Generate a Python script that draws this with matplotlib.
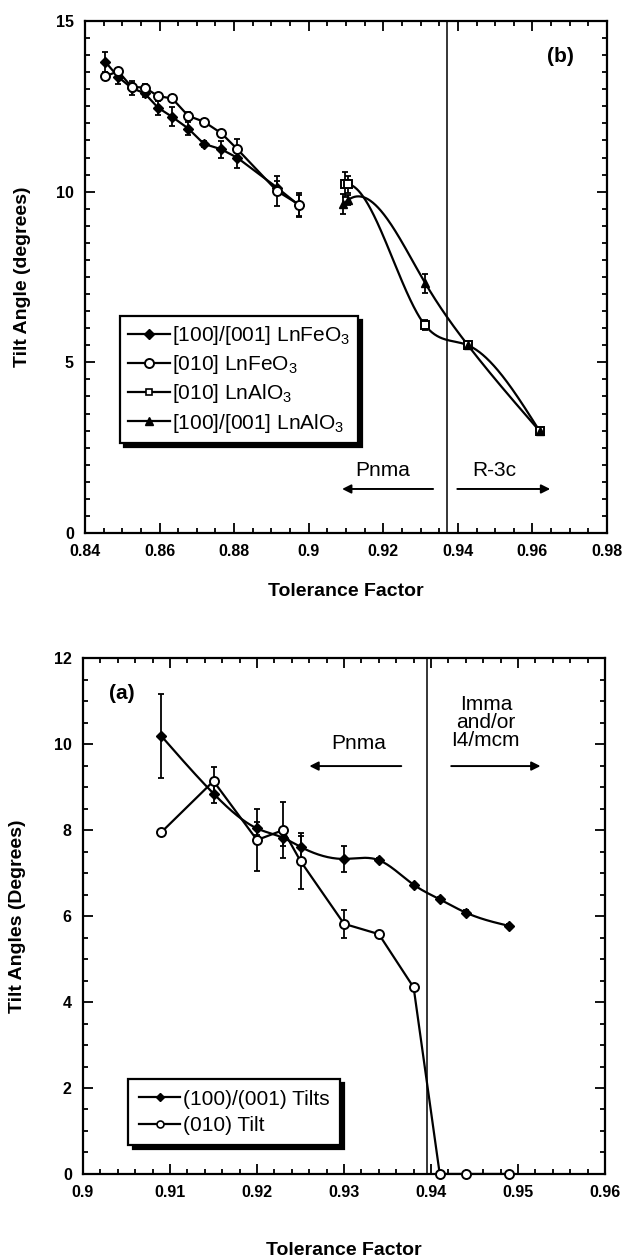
import numpy as np
import matplotlib
matplotlib.use("Agg")
import matplotlib.pyplot as plt
from matplotlib.ticker import MultipleLocator, FormatStrFormatter

plt.rcParams["font.family"] = ["Liberation Sans", "DejaVu Sans"]
plt.rcParams["mathtext.fontset"] = "custom"
plt.rcParams["mathtext.rm"] = "Liberation Sans"

# ---- panel (b): LnFeO3 / LnAlO3 tilt angles ----
fe_t = [0.8455, 0.8489, 0.8525, 0.8560, 0.8596, 0.8634, 0.8677, 0.8719, 0.8766, 0.8809, 0.8915, 0.8974]
fe_tilt_100 = [13.80, 13.36, 13.04, 12.88, 12.46, 12.19, 11.85, 11.40, 11.24, 10.99, 10.12, 9.60]
fe_err_100 = [0.30, 0.20, 0.20, 0.10, 0.20, 0.28, 0.18, 0.08, 0.25, 0.30, 0.20, 0.30]
fe_tilt_010 = [13.38, 13.53, 13.07, 13.05, 12.80, 12.73, 12.22, 12.05, 11.71, 11.24, 10.02, 9.62]
fe_err_010 = [0.10, 0.10, 0.10, 0.10, 0.10, 0.10, 0.10, 0.08, 0.10, 0.30, 0.45, 0.35]

al_t_010 = [0.9096, 0.9105, 0.9311, 0.9427, 0.9619]
al_tilt_010 = [10.22, 10.22, 6.10, 5.50, 2.99]
al_err_010 = [0.37, 0.25, 0.15, 0.05, 0.05]
al_t_100 = [0.9093, 0.9106, 0.9313, 0.9427, 0.9619]
al_tilt_100 = [9.64, 9.76, 7.31, 5.50, 2.99]
al_err_100 = [0.30, 0.15, 0.27, 0.05, 0.05]

b_labels = [r"[100]/[001] LnFeO$_3$", r"[010] LnFeO$_3$",
            r"[010] LnAlO$_3$", r"[100]/[001] LnAlO$_3$"]
b_boundary = 0.9371

# ---- panel (a): tilt angles vs tolerance factor ----
a_t = [0.909, 0.915, 0.920, 0.923, 0.925, 0.930, 0.934, 0.938, 0.941, 0.944, 0.949]
a_tilt_100 = [10.19, 8.85, 8.04, 7.82, 7.61, 7.33, 7.30, 6.73, 6.39, 6.08, 5.77]
a_err_100 = [0.97, 0.22, 0.15, 0.20, 0.25, 0.30, 0.05, 0.05, 0.05, 0.05, 0.05]
a_tilt_010 = [7.95, 9.14, 7.77, 8.00, 7.28, 5.82, 5.58, 4.34, 0.0, 0.0, 0.0]
a_err_010 = [0.05, 0.32, 0.71, 0.66, 0.65, 0.33, 0.05, 0.08, 0.0, 0.0, 0.0]
a_labels = ["(100)/(001) Tilts", "(010) Tilt"]
a_boundary = 0.9395


def natural_spline(x, y, n=300):
    x = np.asarray(x, float)
    y = np.asarray(y, float)
    h = np.diff(x)
    m = len(x)
    A = np.zeros((m, m))
    r = np.zeros(m)
    A[0, 0] = A[-1, -1] = 1.0
    for i in range(1, m - 1):
        A[i, i - 1] = h[i - 1]
        A[i, i] = 2 * (h[i - 1] + h[i])
        A[i, i + 1] = h[i]
        r[i] = 6 * ((y[i + 1] - y[i]) / h[i] - (y[i] - y[i - 1]) / h[i - 1])
    M = np.linalg.solve(A, r)
    xs = np.linspace(x[0], x[-1], n)
    k = np.clip(np.searchsorted(x, xs) - 1, 0, m - 2)
    dx0 = xs - x[k]
    dx1 = x[k + 1] - xs
    hk = h[k]
    ys = (M[k] * dx1 ** 3 + M[k + 1] * dx0 ** 3) / (6 * hk) \
        + (y[k] / hk - M[k] * hk / 6) * dx1 + (y[k + 1] / hk - M[k + 1] * hk / 6) * dx0
    return xs, ys


def style_axes(ax):
    for sp in ax.spines.values():
        sp.set_linewidth(1.6)
    ax.tick_params(which="both", direction="in", top=True, right=True, width=1.3)
    ax.tick_params(which="major", length=7, labelsize=11.5, pad=8)
    ax.tick_params(which="minor", length=3.5)
    for lab in ax.get_xticklabels() + ax.get_yticklabels():
        lab.set_fontweight("bold")


def errbars(ax, x, y, e):
    ax.errorbar(x, y, yerr=e, fmt="none", ecolor="black", elinewidth=1.3,
                capsize=2.5, capthick=1.3, zorder=2)


LW = 1.6
shadow = {"color": "black", "alpha": 1.0, "ox": 3, "oy": -3}
fig = plt.figure(figsize=(6.23, 12.58), dpi=100)

# ---------- panel (b) ----------
axb = fig.add_axes([0.1364, 0.5763, 0.838, 0.407])
errbars(axb, fe_t, fe_tilt_100, fe_err_100)
errbars(axb, fe_t, fe_tilt_010, fe_err_010)
errbars(axb, al_t_010, al_tilt_010, al_err_010)
errbars(axb, al_t_100, al_tilt_100, al_err_100)

hb = []
hb.append(axb.plot(fe_t, fe_tilt_100, "-", color="black", lw=LW, marker="D", ms=5,
                   mfc="black", mec="black", zorder=3)[0])
hb.append(axb.plot(fe_t, fe_tilt_010, "-", color="black", lw=LW, marker="o", ms=6.5,
                   mfc="white", mec="black", mew=1.4, zorder=4)[0])
xs, ys = natural_spline(al_t_010, al_tilt_010)
axb.plot(xs, ys, "-", color="black", lw=LW, zorder=3)
axb.plot(al_t_010, al_tilt_010, "s", ms=6, mfc="white", mec="black", mew=1.4, zorder=5)
xs, ys = natural_spline(al_t_100, al_tilt_100)
axb.plot(xs, ys, "-", color="black", lw=LW, zorder=3)
axb.plot(al_t_100, al_tilt_100, "^", ms=6, mfc="black", mec="black", zorder=5)
hb.append(axb.plot([], [], "-", color="black", lw=LW, marker="s", ms=5,
                   mfc="white", mec="black", mew=1.2)[0])
hb.append(axb.plot([], [], "-", color="black", lw=LW, marker="^", ms=5.5,
                   mfc="black", mec="black")[0])

axb.axvline(b_boundary, color="black", lw=1.1, zorder=1)
axb.set_xlim(0.84, 0.98)
axb.set_ylim(0, 15)
axb.xaxis.set_major_locator(MultipleLocator(0.02))
axb.xaxis.set_minor_locator(MultipleLocator(0.005))
axb.yaxis.set_major_locator(MultipleLocator(5))
axb.yaxis.set_minor_locator(MultipleLocator(0.5))
axb.xaxis.set_major_formatter(FormatStrFormatter("%g"))
axb.set_xlabel("Tolerance Factor", fontsize=14, fontweight="bold", labelpad=17)
axb.set_ylabel("Tilt Angle (degrees)", fontsize=14, fontweight="bold", labelpad=18)
style_axes(axb)

axb.text(0.9674, 13.95, "(b)", fontsize=15, fontweight="bold", ha="center", va="center")
axb.text(0.9199, 1.83, "Pnma", fontsize=15, ha="center", va="center")
axb.text(0.9498, 1.83, "R-3c", fontsize=15, ha="center", va="center")
arrow = dict(arrowstyle="-|>", color="black", lw=1.4, mutation_scale=13)
axb.annotate("", xy=(0.9082, 1.29), xytext=(0.9341, 1.29), arrowprops=arrow)
axb.annotate("", xy=(0.9655, 1.29), xytext=(0.9391, 1.29), arrowprops=arrow)

legb = axb.legend(hb, b_labels, loc="upper left", bbox_to_anchor=(0.047, 0.445),
                  fontsize=15, handlelength=2.0, handletextpad=0.1,
                  labelspacing=0.3, borderpad=0.4, fancybox=False,
                  shadow=shadow, framealpha=1, edgecolor="black")
legb.get_frame().set_linewidth(1.6)

# ---------- panel (a) ----------
axa = fig.add_axes([0.1332, 0.0668, 0.838, 0.410])
errbars(axa, a_t, a_tilt_100, a_err_100)
errbars(axa, a_t, a_tilt_010, a_err_010)
xs, ys = natural_spline(a_t, a_tilt_100)
axa.plot(xs, ys, "-", color="black", lw=LW, zorder=3)
axa.plot(a_t, a_tilt_100, "D", ms=5, mfc="black", mec="black", zorder=4)
axa.plot(a_t, a_tilt_010, "-", color="black", lw=LW, zorder=3)
axa.plot(a_t, a_tilt_010, "o", ms=6.5, mfc="white", mec="black", mew=1.4,
         zorder=5, clip_on=False)
ha = [axa.plot([], [], "-", color="black", lw=LW, marker="D", ms=4.5,
               mfc="black", mec="black")[0],
      axa.plot([], [], "-", color="black", lw=LW, marker="o", ms=5,
               mfc="white", mec="black", mew=1.2)[0]]

axa.axvline(a_boundary, color="black", lw=1.1, zorder=1)
axa.set_xlim(0.9, 0.96)
axa.set_ylim(0, 12)
axa.xaxis.set_major_locator(MultipleLocator(0.01))
axa.xaxis.set_minor_locator(MultipleLocator(0.002))
axa.yaxis.set_major_locator(MultipleLocator(2))
axa.yaxis.set_minor_locator(MultipleLocator(0.5))
axa.xaxis.set_major_formatter(FormatStrFormatter("%g"))
axa.set_xlabel("Tolerance Factor", fontsize=14, fontweight="bold", labelpad=30)
axa.set_ylabel("Tilt Angles (Degrees)", fontsize=14, fontweight="bold", labelpad=20)
style_axes(axa)

axa.text(0.9045, 11.17, "(a)", fontsize=15, fontweight="bold", ha="center", va="center")
axa.text(0.9317, 10.01, "Pnma", fontsize=15, ha="center", va="center")
axa.text(0.9463, 10.5, "Imma\nand/or\nI4/mcm", fontsize=15, ha="center", va="center",
         linespacing=0.95)
axa.annotate("", xy=(0.9257, 9.49), xytext=(0.9369, 9.49), arrowprops=arrow)
axa.annotate("", xy=(0.9529, 9.49), xytext=(0.9420, 9.49), arrowprops=arrow)

lega = axa.legend(ha, a_labels, loc="upper left", bbox_to_anchor=(0.067, 0.204),
                  fontsize=15, handlelength=2.0, handletextpad=0.1,
                  labelspacing=0.35, borderpad=0.5, fancybox=False,
                  shadow=shadow, framealpha=1, edgecolor="black")
lega.get_frame().set_linewidth(1.6)

fig.savefig("out.png", dpi=100)
